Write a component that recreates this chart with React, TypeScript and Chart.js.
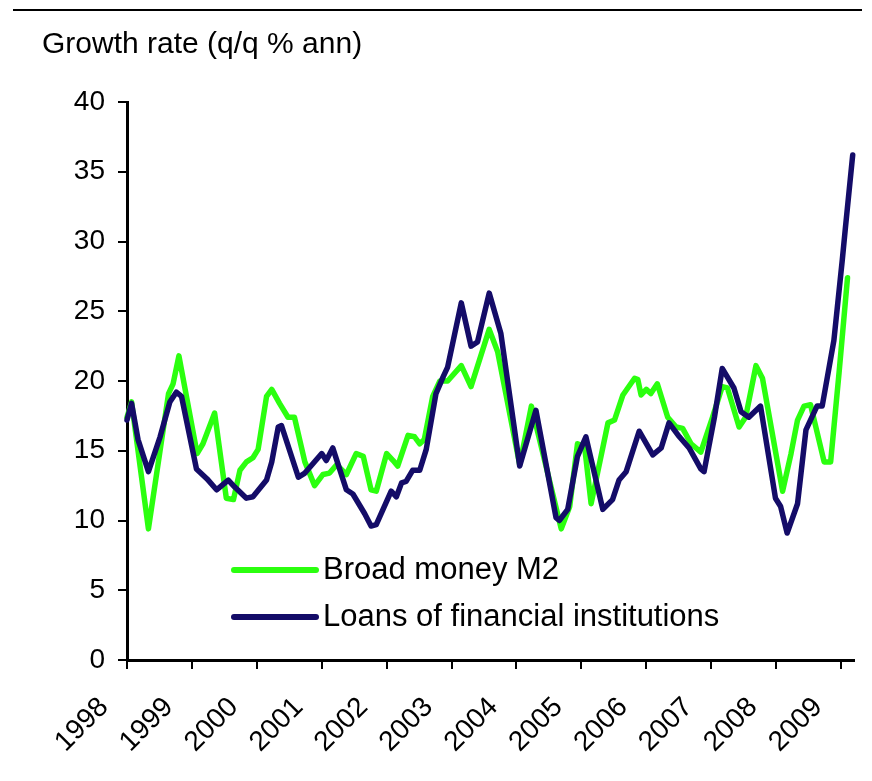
import React, { useEffect, useRef } from "react";
import { Chart, registerables } from "chart.js";

Chart.register(...registerables);

const FONT = "'Liberation Sans', Arial, Helvetica, sans-serif";

const titleText = "Growth rate (q/q % ann)";
const yearTicks = [1998, 1999, 2000, 2001, 2002, 2003, 2004, 2005, 2006, 2007, 2008, 2009];
const valueTicks = [0, 5, 10, 15, 20, 25, 30, 35, 40];

const m2Label = "Broad money M2";
const m2Dates = [
  1998.0, 1998.07, 1998.33, 1998.64, 1998.71, 1998.8, 1999.08, 1999.17, 1999.35, 1999.53,
  1999.64, 1999.74, 1999.84, 1999.94, 2000.02, 2000.15, 2000.23, 2000.35, 2000.48, 2000.58,
  2000.74, 2000.89, 2001.02, 2001.12, 2001.23, 2001.38, 2001.53, 2001.64, 2001.76, 2001.84,
  2002.0, 2002.1, 2002.17, 2002.33, 2002.43, 2002.51, 2002.58, 2002.71, 2002.82, 2002.94,
  2003.15, 2003.3, 2003.58, 2003.71, 2004.05, 2004.23, 2004.69, 2004.82, 2004.94, 2005.05,
  2005.15, 2005.41, 2005.51, 2005.64, 2005.82, 2005.87, 2005.92, 2006.0, 2006.07, 2006.17,
  2006.33, 2006.46, 2006.56, 2006.69, 2006.84, 2007.02, 2007.17, 2007.25, 2007.43, 2007.53,
  2007.69, 2007.79, 2008.1, 2008.23, 2008.33, 2008.43, 2008.53, 2008.74, 2008.84, 2008.97,
  2009.1,
];
const m2Values = [
  17.4, 18.5, 9.4, 19.1, 19.8, 21.8, 14.8, 15.5, 17.7, 11.6,
  11.5, 13.6, 14.2, 14.5, 15.1, 18.9, 19.4, 18.4, 17.4, 17.4,
  14.2, 12.5, 13.3, 13.4, 14.0, 13.3, 14.8, 14.6, 12.2, 12.1,
  14.8, 14.3, 13.9, 16.1, 16.0, 15.5, 15.8, 18.9, 20.0, 20.0,
  21.1, 19.6, 23.7, 22.1, 14.0, 18.2, 9.4, 11.0, 15.5, 15.3,
  11.2, 17.0, 17.2, 19.0, 20.2, 20.1, 19.0, 19.4, 19.1, 19.8,
  17.4, 16.7, 16.6, 15.5, 14.9, 17.4, 19.6, 19.5, 16.7, 17.4,
  21.1, 20.2, 12.1, 14.8, 17.2, 18.2, 18.3, 14.2, 14.2, 20.6,
  27.4,
];

const loanLabel = "Loans of financial institutions";
const loanDates = [
  1998.0, 1998.07, 1998.17, 1998.33, 1998.51, 1998.66, 1998.76, 1998.84, 1999.07, 1999.23,
  1999.38, 1999.56, 1999.66, 1999.84, 1999.94, 2000.15, 2000.23, 2000.33, 2000.38, 2000.64,
  2000.74, 2000.87, 2001.0, 2001.07, 2001.17, 2001.38, 2001.48, 2001.66, 2001.76, 2001.84,
  2002.07, 2002.15, 2002.23, 2002.3, 2002.4, 2002.51, 2002.61, 2002.76, 2002.87, 2002.94,
  2003.15, 2003.3, 2003.4, 2003.58, 2003.76, 2004.05, 2004.3, 2004.61, 2004.66, 2004.79,
  2004.94, 2005.07, 2005.33, 2005.48, 2005.58, 2005.69, 2005.89, 2006.1, 2006.23, 2006.35,
  2006.51, 2006.66, 2006.84, 2006.89, 2007.05, 2007.17, 2007.35, 2007.46, 2007.58, 2007.76,
  2007.99, 2008.07, 2008.17, 2008.33, 2008.46, 2008.63, 2008.71, 2008.89, 2009.02, 2009.07,
  2009.18,
];
const loanValues = [
  17.2, 18.4, 15.8, 13.5, 16.0, 18.5, 19.2, 18.9, 13.7, 13.0,
  12.2, 12.9, 12.4, 11.6, 11.7, 12.9, 14.2, 16.7, 16.8, 13.1,
  13.4, 14.1, 14.8, 14.3, 15.2, 12.2, 11.9, 10.5, 9.6, 9.7,
  12.1, 11.7, 12.7, 12.8, 13.6, 13.6, 15.1, 19.1, 20.3, 21.0,
  25.6, 22.5, 22.8, 26.3, 23.4, 13.9, 17.9, 10.2, 10.0, 10.8,
  14.6, 16.0, 10.8, 11.5, 12.9, 13.5, 16.4, 14.7, 15.2, 17.0,
  16.0, 15.2, 13.7, 13.5, 17.4, 20.9, 19.5, 17.8, 17.4, 18.2,
  11.6, 11.0, 9.1, 11.2, 16.5, 18.2, 18.2, 22.9, 28.7, 31.1,
  36.2,
];

const GREEN = "#2bff0f";
const NAVY = "#140c68";

const toPoints = (xs: number[], ys: number[]) => xs.map((x, i) => ({ x, y: ys[i] }));

const decorPlugin = {
  id: "decor",
  afterDraw(chart: any) {
    const ctx = chart.ctx as CanvasRenderingContext2D;
    const area = chart.chartArea;
    ctx.save();
    // top rule
    ctx.strokeStyle = "#000";
    ctx.lineWidth = 2;
    ctx.beginPath();
    ctx.moveTo(5, 2);
    ctx.lineTo(854, 2);
    ctx.stroke();
    // title
    ctx.fillStyle = "#000";
    ctx.font = `30px ${FONT}`;
    ctx.textBaseline = "alphabetic";
    ctx.textAlign = "left";
    ctx.fillText(titleText, 34, 45);
    // legend
    const items = chart.data.datasets;
    const rowY = [area.bottom - 90, area.bottom - 43];
    items.forEach((ds: any, i: number) => {
      const y = rowY[i];
      ctx.strokeStyle = ds.borderColor;
      ctx.lineWidth = 6;
      ctx.lineCap = "round";
      ctx.beginPath();
      ctx.moveTo(area.left + 107, y);
      ctx.lineTo(area.left + 189, y);
      ctx.stroke();
      ctx.fillStyle = "#000";
      ctx.font = `31px ${FONT}`;
      ctx.textBaseline = "middle";
      ctx.fillText(ds.label, area.left + 196, y);
    });
    ctx.restore();
  },
};

export default function App() {
  const canvasRef = useRef<HTMLCanvasElement | null>(null);

  useEffect(() => {
    if (!canvasRef.current) return;
    const chart = new Chart(canvasRef.current, {
      type: "line",
      data: {
        datasets: [
          {
            label: m2Label,
            data: toPoints(m2Dates, m2Values),
            borderColor: GREEN,
            backgroundColor: GREEN,
            borderWidth: 5.5,
            pointRadius: 0,
            tension: 0,
            borderJoinStyle: "round",
            borderCapStyle: "round",
            order: 1,
            clip: 6,
          },
          {
            label: loanLabel,
            data: toPoints(loanDates, loanValues),
            borderColor: NAVY,
            backgroundColor: NAVY,
            borderWidth: 5.5,
            pointRadius: 0,
            tension: 0,
            borderJoinStyle: "round",
            borderCapStyle: "round",
            order: 0,
            clip: 6,
          },
        ],
      },
      options: {
        animation: false,
        responsive: true,
        maintainAspectRatio: false,
        devicePixelRatio: 1,
        layout: { padding: { top: 94, left: 0, right: 10, bottom: 0 } },
        plugins: {
          legend: { display: false },
          tooltip: { enabled: false },
          title: { display: false },
        },
        scales: {
          x: {
            type: "linear",
            min: 1998,
            max: 2009.2,
            afterBuildTicks: (s: any) => {
              s.ticks = yearTicks.map((v) => ({ value: v }));
            },
            afterFit: (s: any) => {
              s.height = 113;
              s.paddingLeft = 0;
              s.paddingRight = 0;
            },
            grid: {
              drawOnChartArea: false,
              drawTicks: true,
              tickLength: 9,
              color: "#000",
              lineWidth: 2,
            },
            border: { display: true, color: "#000", width: 3 },
            ticks: {
              autoSkip: false,
              maxRotation: 45,
              minRotation: 45,
              padding: 22,
              labelOffset: -23,
              color: "#000",
              font: { size: 28, family: FONT },
              callback: (v: any) => String(v),
            },
          },
          y: {
            type: "linear",
            min: 0,
            max: 40,
            afterBuildTicks: (s: any) => {
              s.ticks = valueTicks.map((v) => ({ value: v }));
            },
            afterFit: (s: any) => {
              s.width = 119;
            },
            grid: {
              drawOnChartArea: false,
              drawTicks: true,
              tickLength: 9,
              color: "#000",
              lineWidth: 2,
            },
            border: { display: true, color: "#000", width: 3 },
            ticks: {
              padding: 13,
              color: "#000",
              font: { size: 28, family: FONT },
              callback: (v: any) => String(v),
            },
          },
        },
      },
      plugins: [decorPlugin],
    } as any);
    return () => chart.destroy();
  }, []);

  return (
    <div style={{ width: 856, height: 765, position: "relative", background: "#fff" }}>
      <canvas ref={canvasRef} />
    </div>
  );
}
